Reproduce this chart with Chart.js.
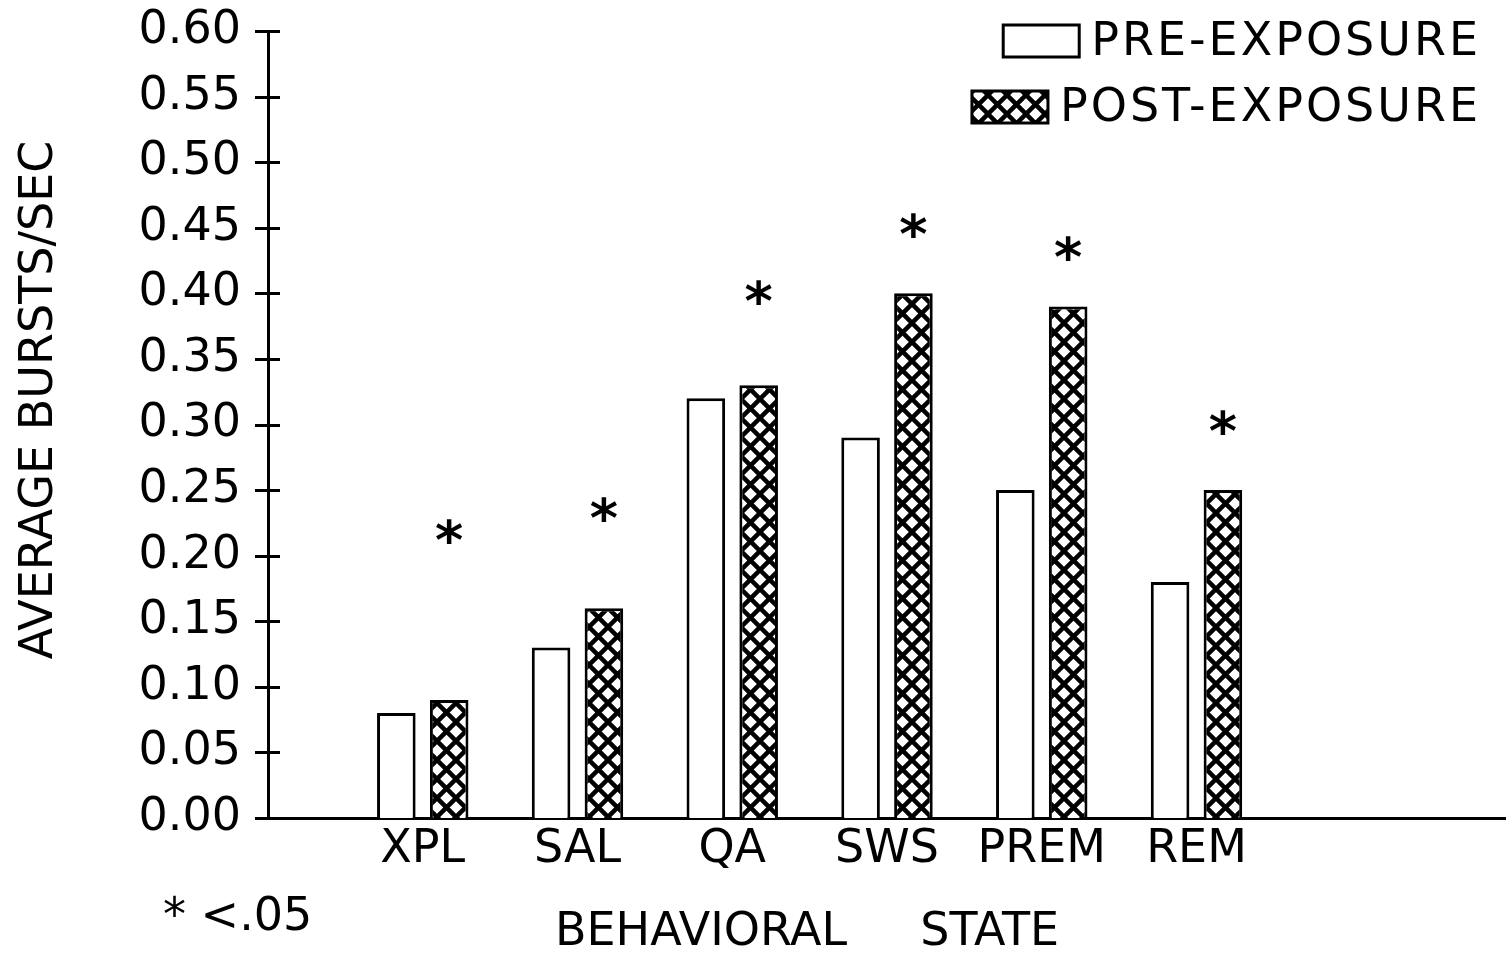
<!DOCTYPE html>
<html>
<head>
<meta charset="utf-8">
<script src="https://cdn.jsdelivr.net/npm/chart.js@4/dist/chart.umd.min.js"></script>
<style>
  html, body { margin: 0; padding: 0; background: #fff; }
  #wrap { width: 1506px; height: 958px; position: relative; }
</style>
</head>
<body>
<div id="wrap"><canvas id="chart"></canvas></div>
<script>
// Behavioral states on the x axis
const categories = ['XPL', 'SAL', 'QA', 'SWS', 'PREM', 'REM'];
// Average bursts per second before and after exposure
const preExposure = [0.08, 0.13, 0.32, 0.29, 0.25, 0.18];
const postExposure = [0.09, 0.16, 0.33, 0.40, 0.39, 0.25];
// Height (in bursts/sec) at which each significance asterisk sits
const starLevels = [0.215, 0.232, 0.397, 0.448, 0.431, 0.298];
const seriesNames = ['PRE-EXPOSURE', 'POST-EXPOSURE'];
const yMin = 0, yMax = 0.60, yStep = 0.05;

const FAMILY = "'DejaVu Sans', sans-serif";
const FONT_PX = 46;

// Diamond cross-hatch used for the post-exposure bars
function crossHatch() {
  const s = 19;
  const c = document.createElement('canvas');
  c.width = s; c.height = s;
  const g = c.getContext('2d');
  g.fillStyle = '#fff';
  g.fillRect(0, 0, s, s);
  g.strokeStyle = '#000';
  g.lineWidth = 4.5;
  g.beginPath();
  for (const o of [-s, 0, s]) {
    g.moveTo(o, 0); g.lineTo(o + s, s);
    g.moveTo(o + s, 0); g.lineTo(o, s);
  }
  g.stroke();
  return g.createPattern(c, 'repeat');
}
const hatch = crossHatch();

// empty slot before the first state and two after the last one
const labels = ['', ...categories, '', ''];
const pad = arr => [null, ...arr, null, null];

const decorations = {
  id: 'decorations',
  afterDraw(chart) {
    const { ctx, scales: { x, y } } = chart;
    ctx.save();
    ctx.strokeStyle = '#000';
    ctx.fillStyle = '#000';
    ctx.lineWidth = 3;

    // tick marks crossing the value axis
    y.ticks.forEach(t => {
      const py = Math.round(y.getPixelForValue(t.value)) + 0.5;
      ctx.beginPath();
      ctx.moveTo(x.left - 13, py);
      ctx.lineTo(x.left + 12, py);
      ctx.stroke();
    });

    // significance asterisks over the post-exposure bars
    ctx.font = `bold 54px ${FAMILY}`;
    ctx.textAlign = 'center';
    ctx.textBaseline = 'alphabetic';
    const post = chart.getDatasetMeta(1).data;
    starLevels.forEach((v, i) => {
      const bar = post[i + 1];
      ctx.fillText('*', bar.x, y.getPixelForValue(v) + 23);
    });

    // legend, right aligned in the upper corner
    ctx.font = `${FONT_PX}px ${FAMILY}`;
    ctx.textAlign = 'right';
    ctx.textBaseline = 'middle';
    ctx.letterSpacing = '3px';
    const rows = [41, 107];
    chart.data.datasets.forEach((ds, i) => {
      const cy = rows[i];
      ctx.fillStyle = '#000';
      ctx.fillText(ds.label, 1481, cy + 2);
      const w = ctx.measureText(ds.label).width;
      const bw = 76, bh = 32;
      const bx = 1481 - w - bw - 12;
      ctx.fillStyle = ds.backgroundColor;
      ctx.fillRect(bx, cy - bh / 2, bw, bh);
      ctx.lineWidth = 3;
      ctx.strokeRect(bx, cy - bh / 2, bw, bh);
    });
    ctx.letterSpacing = '0px';

    // axis titles and footnote
    ctx.fillStyle = '#000';
    ctx.textAlign = 'center';
    ctx.textBaseline = 'middle';
    ctx.save();
    ctx.translate(40, 400);
    ctx.rotate(-Math.PI / 2);
    ctx.fillText('AVERAGE BURSTS/SEC', 0, 0);
    ctx.restore();

    ctx.textAlign = 'left';
    ctx.fillText('BEHAVIORAL     STATE', 555, 933);
    ctx.fillText('* <.05', 163, 918);
    ctx.restore();
  }
};

new Chart(document.getElementById('chart'), {
  type: 'bar',
  data: {
    labels: labels,
    datasets: [
      {
        label: seriesNames[0],
        data: pad(preExposure),
        backgroundColor: '#fff',
        borderColor: '#000',
        borderWidth: 3,
        borderSkipped: 'start'
      },
      {
        label: seriesNames[1],
        data: pad(postExposure),
        backgroundColor: hatch,
        borderColor: '#000',
        borderWidth: 3,
        borderSkipped: 'start'
      }
    ]
  },
  options: {
    responsive: true,
    maintainAspectRatio: false,
    animation: false,
    categoryPercentage: 0.683,
    barPercentage: 0.73,
    layout: { padding: { top: 31, right: -10, left: 0, bottom: 0 } },
    plugins: {
      legend: { display: false },
      tooltip: { enabled: false }
    },
    scales: {
      x: {
        offset: false,
        grid: { display: false, drawTicks: false, offset: false },
        border: { display: true, color: '#000', width: 3 },
        ticks: {
          color: '#000',
          font: { family: FAMILY, size: FONT_PX },
          padding: 4,
          maxRotation: 0,
          autoSkip: false
        },
        afterFit(scale) {
          scale.height = 140;
          scale.paddingLeft = 0;
          scale.paddingRight = 0;
        }
      },
      y: {
        min: yMin,
        max: yMax,
        grid: { display: false, drawTicks: true, tickLength: 13 },
        border: { display: true, color: '#000', width: 3 },
        ticks: {
          stepSize: yStep,
          color: '#000',
          font: { family: FAMILY, size: FONT_PX },
          padding: 14,
          callback: v => Number(v).toFixed(2)
        },
        afterFit(scale) {
          scale.width = 268;
          scale.paddingTop = 0;
          scale.paddingBottom = 0;
        }
      }
    }
  },
  plugins: [decorations]
});
</script>
</body>
</html>
